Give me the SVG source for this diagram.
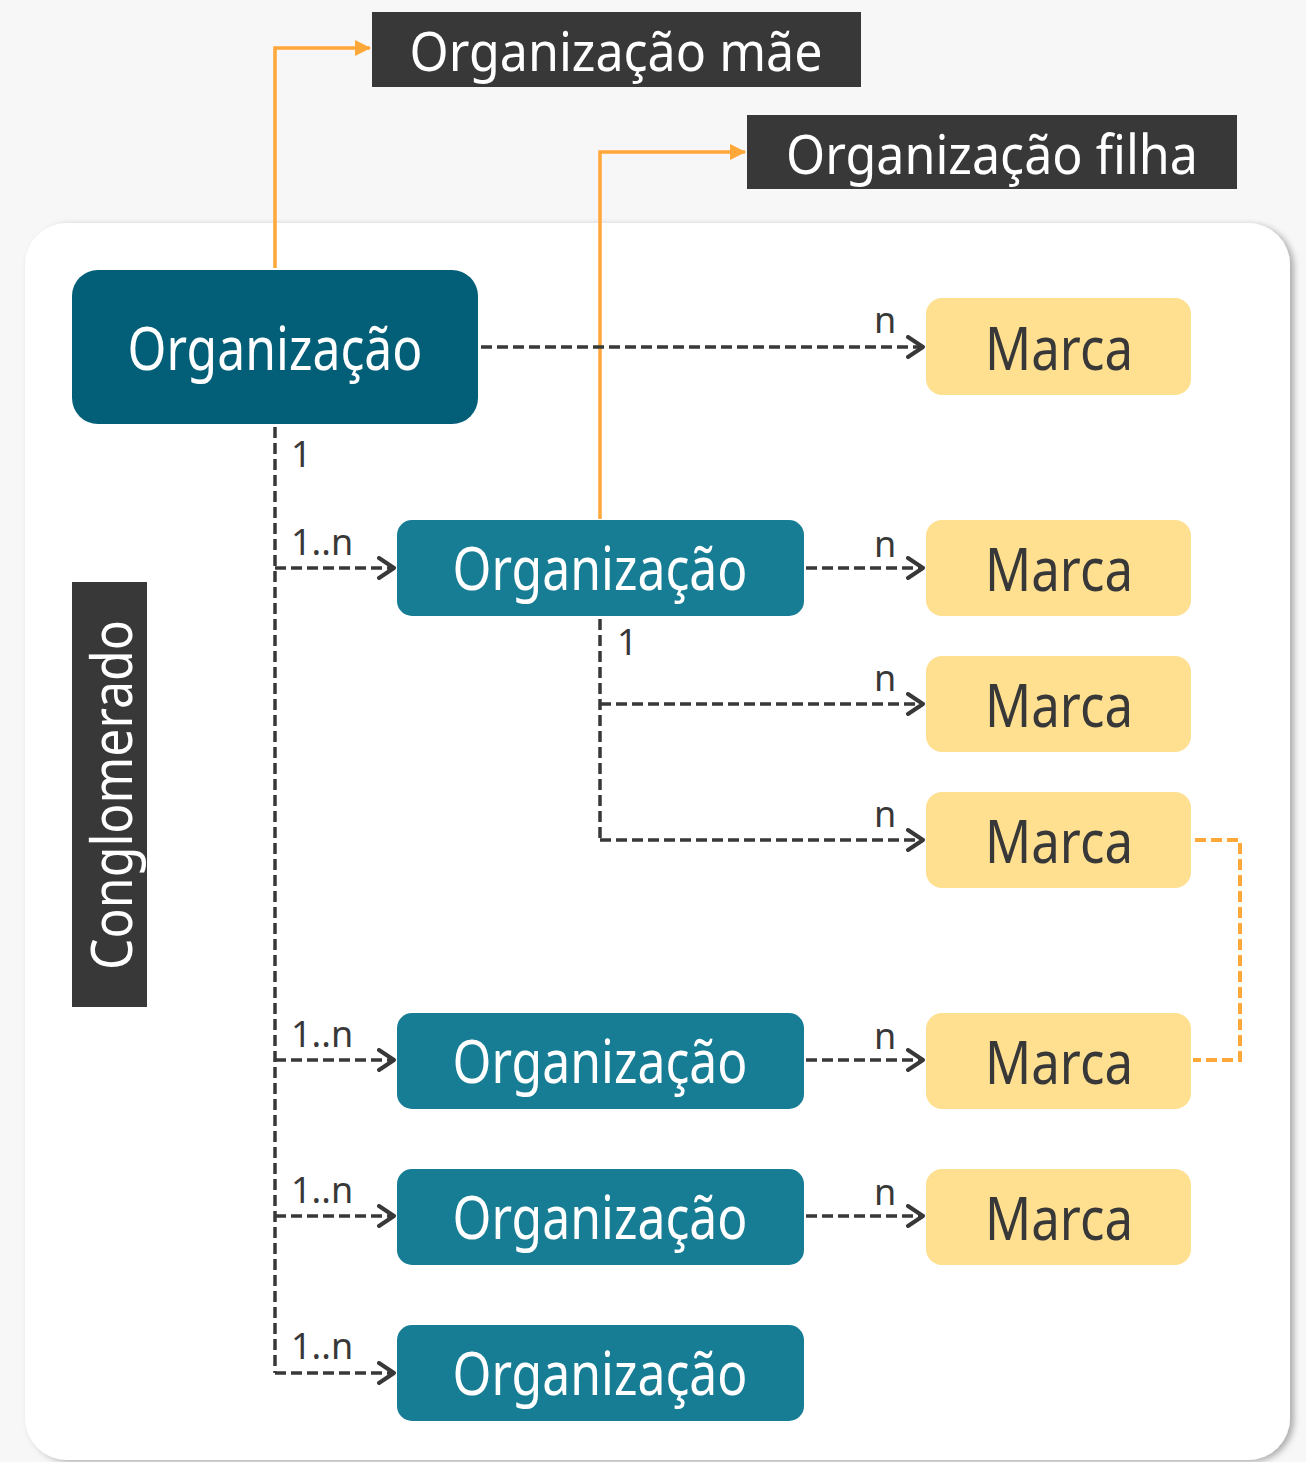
<svg xmlns="http://www.w3.org/2000/svg" width="1306" height="1462" viewBox="0 0 1306 1462">
<defs>
<style>
.t{font-family:"Noto Sans","Open Sans","Liberation Sans",sans-serif}
.big{font-size:60px}
.lbl{font-size:36px;fill:#383838}
.dash{fill:none;stroke:#383838;stroke-width:3.5;stroke-dasharray:11 5}
.orange{fill:none;stroke:#ffa83a;stroke-width:3.5}
.odash{fill:none;stroke:#ffa83a;stroke-width:4;stroke-dasharray:11 5}
</style>
<marker id="chev" markerUnits="userSpaceOnUse" markerWidth="20" markerHeight="24" refX="17" refY="12" orient="auto" viewBox="0 0 20 24">
<path d="M2,2 L17,12 L2,22" fill="none" stroke="#383838" stroke-width="4" stroke-linecap="round" stroke-linejoin="round"/>
</marker>
<marker id="tri" markerUnits="userSpaceOnUse" markerWidth="16" markerHeight="16" refX="15" refY="8" orient="auto" viewBox="0 0 16 16">
<path d="M0,0 L16,8 L0,16 Z" fill="#ffa83a"/>
</marker>
<filter id="sh" x="-5%" y="-5%" width="110%" height="110%">
<feDropShadow dx="4" dy="2" stdDeviation="3" flood-color="#000" flood-opacity="0.3"/>
</filter>
</defs>
<rect width="1306" height="1462" fill="#f7f7f7"/>
<rect id="panel" x="25" y="223" width="1265" height="1237" rx="42" fill="#ffffff" filter="url(#sh)"/>

<g id="connectors">
<path class="orange" d="M275,268 V48 H370" marker-end="url(#tri)"/>
<path class="orange" d="M600,519 V152 H745" marker-end="url(#tri)"/>
<path class="dash" d="M275,427 V1373"/>
<path class="dash" d="M275,568 H394" marker-end="url(#chev)"/>
<path class="dash" d="M275,1060 H394" marker-end="url(#chev)"/>
<path class="dash" d="M275,1216 H394" marker-end="url(#chev)"/>
<path class="dash" d="M275,1373 H394" marker-end="url(#chev)"/>
<path class="dash" d="M481,347 H923" marker-end="url(#chev)"/>
<path class="dash" d="M806,568 H923" marker-end="url(#chev)"/>
<path class="dash" d="M806,1060 H923" marker-end="url(#chev)"/>
<path class="dash" d="M806,1216 H923" marker-end="url(#chev)"/>
<path class="dash" d="M600,619 V840"/>
<path class="dash" d="M600,704 H923" marker-end="url(#chev)"/>
<path class="dash" d="M600,840 H923" marker-end="url(#chev)"/>
<path class="odash" d="M1195,840 H1240 V1060 H1193"/>
<g class="t lbl">
<text x="291" y="467">1</text>
<text x="291" y="555">1..n</text>
<text x="291" y="1047">1..n</text>
<text x="291" y="1203">1..n</text>
<text x="291" y="1359">1..n</text>
<text x="617" y="655">1</text>
<text x="874" y="333">n</text>
<text x="874" y="557">n</text>
<text x="874" y="691">n</text>
<text x="874" y="827">n</text>
<text x="874" y="1049">n</text>
<text x="874" y="1205">n</text>
</g>
</g>

<g id="title-mae">
<rect x="372" y="12" width="489" height="75" fill="#383838"/>
<text class="t" x="616" y="71" font-size="55" fill="#ffffff" text-anchor="middle" textLength="413" lengthAdjust="spacingAndGlyphs">Organização mãe</text>
</g>
<g id="title-filha">
<rect x="747" y="115" width="490" height="74" fill="#383838"/>
<text class="t" x="992" y="174" font-size="55" fill="#ffffff" text-anchor="middle" textLength="412" lengthAdjust="spacingAndGlyphs">Organização filha</text>
</g>
<g id="conglomerado">
<rect x="72" y="582" width="75" height="425" fill="#383838"/>
<text class="t" transform="translate(132,795) rotate(-90)" font-size="56" fill="#ffffff" text-anchor="middle" textLength="350" lengthAdjust="spacingAndGlyphs">Conglomerado</text>
</g>

<g id="org-main">
<rect x="72" y="270" width="406" height="154" rx="26" fill="#035f78"/>
<text class="t big" x="275" y="370" fill="#ffffff" text-anchor="middle" textLength="295" lengthAdjust="spacingAndGlyphs">Organização</text>
</g>
<g id="org-1">
<rect x="397" y="520" width="407" height="96" rx="15" fill="#167d94"/>
<text class="t big" x="600" y="590" fill="#ffffff" text-anchor="middle" textLength="295" lengthAdjust="spacingAndGlyphs">Organização</text>
</g>
<g id="org-2">
<rect x="397" y="1013" width="407" height="96" rx="15" fill="#167d94"/>
<text class="t big" x="600" y="1083" fill="#ffffff" text-anchor="middle" textLength="295" lengthAdjust="spacingAndGlyphs">Organização</text>
</g>
<g id="org-3">
<rect x="397" y="1169" width="407" height="96" rx="15" fill="#167d94"/>
<text class="t big" x="600" y="1239" fill="#ffffff" text-anchor="middle" textLength="295" lengthAdjust="spacingAndGlyphs">Organização</text>
</g>
<g id="org-4">
<rect x="397" y="1325" width="407" height="96" rx="15" fill="#167d94"/>
<text class="t big" x="600" y="1395" fill="#ffffff" text-anchor="middle" textLength="295" lengthAdjust="spacingAndGlyphs">Organização</text>
</g>

<g id="marca-1">
<rect x="926" y="298" width="265" height="97" rx="16" fill="#ffe090"/>
<text class="t big" x="1059" y="370" fill="#383838" text-anchor="middle" textLength="148" lengthAdjust="spacingAndGlyphs">Marca</text>
</g>
<g id="marca-2">
<rect x="926" y="520" width="265" height="96" rx="16" fill="#ffe090"/>
<text class="t big" x="1059" y="591" fill="#383838" text-anchor="middle" textLength="148" lengthAdjust="spacingAndGlyphs">Marca</text>
</g>
<g id="marca-3">
<rect x="926" y="656" width="265" height="96" rx="16" fill="#ffe090"/>
<text class="t big" x="1059" y="727" fill="#383838" text-anchor="middle" textLength="148" lengthAdjust="spacingAndGlyphs">Marca</text>
</g>
<g id="marca-4">
<rect x="926" y="792" width="265" height="96" rx="16" fill="#ffe090"/>
<text class="t big" x="1059" y="863" fill="#383838" text-anchor="middle" textLength="148" lengthAdjust="spacingAndGlyphs">Marca</text>
</g>
<g id="marca-5">
<rect x="926" y="1013" width="265" height="96" rx="16" fill="#ffe090"/>
<text class="t big" x="1059" y="1084" fill="#383838" text-anchor="middle" textLength="148" lengthAdjust="spacingAndGlyphs">Marca</text>
</g>
<g id="marca-6">
<rect x="926" y="1169" width="265" height="96" rx="16" fill="#ffe090"/>
<text class="t big" x="1059" y="1240" fill="#383838" text-anchor="middle" textLength="148" lengthAdjust="spacingAndGlyphs">Marca</text>
</g>
</svg>
